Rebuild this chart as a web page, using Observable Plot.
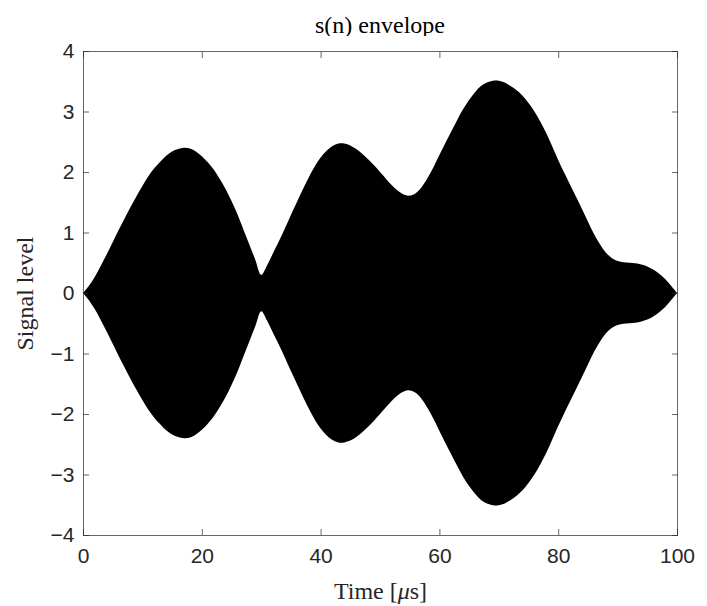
<!DOCTYPE html>
<html><head><meta charset="utf-8">
<script src="https://cdn.jsdelivr.net/npm/d3@7"></script>
<script src="https://cdn.jsdelivr.net/npm/@observablehq/plot@0.6"></script>
<style>
body{margin:0;background:#fff;}
#wrap{position:relative;width:707px;height:606px;overflow:hidden;}
#title{position:absolute;left:83px;width:594px;top:13px;height:24px;line-height:24px;text-align:center;font-family:"Liberation Serif";font-size:24px;color:#000;white-space:nowrap;}
#chart{position:absolute;left:0;top:36px;}
</style></head><body>
<div id="wrap"><div id="title">s(n) envelope</div><div id="chart"></div></div>
<script>
const timeUs = [0,1,2,3,4,5,6,7,8,9,10,11,12,13,14,15,16,17,18,19,20,21,22,23,24,25,26,27,28,29,30,31,32,33,34,35,36,37,38,39,40,41,42,43,44,45,46,47,48,49,50,51,52,53,54,55,56,57,58,59,60,61,62,63,64,65,66,67,68,69,70,71,72,73,74,75,76,77,78,79,80,81,82,83,84,85,86,87,88,89,90,91,92,93,94,95,96,97,98,99,100];
const envelope = [0,0.12,0.27,0.45,0.64,0.84,1.04,1.23,1.42,1.60,1.77,1.93,2.06,2.17,2.27,2.34,2.38,2.40,2.39,2.34,2.26,2.16,2.04,1.89,1.72,1.52,1.30,1.05,0.80,0.55,0.30,0.46,0.66,0.86,1.07,1.29,1.50,1.71,1.91,2.09,2.24,2.35,2.43,2.47,2.47,2.44,2.38,2.30,2.21,2.11,2.00,1.89,1.78,1.69,1.63,1.61,1.65,1.75,1.90,2.08,2.28,2.48,2.67,2.86,3.04,3.19,3.32,3.42,3.48,3.51,3.51,3.48,3.42,3.35,3.26,3.14,3.00,2.83,2.64,2.42,2.20,1.99,1.79,1.59,1.39,1.18,0.98,0.81,0.67,0.58,0.53,0.51,0.50,0.49,0.47,0.44,0.39,0.32,0.23,0.12,0];
const xTicks = [0,20,40,60,80,100];
const yTicks = [-4,-3,-2,-1,0,1,2,3,4];
const xLabel = "Time [μs]";
const yLabel = "Signal level";

const data = timeUs.map((t, i) => ({t, v: envelope[i]}));
const axisColor = "#262626";
const fmt = d => (d < 0 ? "\u2212" + Math.abs(d) : String(d));
const tickFont = {fontFamily: "Liberation Sans", fontSize: 21, fill: axisColor, tickFormat: fmt};

const plot = Plot.plot({
  width: 707, height: 570,
  marginLeft: 83, marginRight: 30, marginTop: 15, marginBottom: 71,
  style: {fontFamily: "Liberation Sans", fontSize: "21px", color: axisColor, background: "#fff"},
  x: {domain: [0, 100]},
  y: {domain: [-4, 4]},
  marks: [
    Plot.areaY(data, {x: "t", y1: d => -d.v, y2: "v", fill: "black", curve: "catmull-rom"}),
    Plot.frame({stroke: axisColor, strokeWidth: 0.7}),
    Plot.axisX(xTicks, {anchor: "bottom", tickSize: -6, tickPadding: 19, label: null, stroke: axisColor, strokeWidth: 0.7, ...tickFont}),
    Plot.axisX(xTicks, {anchor: "top", tickSize: -6, label: null, stroke: axisColor, strokeWidth: 0.7, fill: "none"}),
    Plot.axisY(yTicks, {anchor: "left", tickSize: -6, tickPadding: 15, label: null, stroke: axisColor, strokeWidth: 0.7, ...tickFont}),
    Plot.axisY(yTicks, {anchor: "right", tickSize: -6, label: null, stroke: axisColor, strokeWidth: 0.7, fill: "none"}),
    Plot.text([xLabel], {text: d => d, frameAnchor: "bottom", lineAnchor: "middle", textAnchor: "middle", dy: 56, fontFamily: "Liberation Serif", fontSize: 24, fill: axisColor}),
    Plot.text([yLabel], {text: d => d, frameAnchor: "left", lineAnchor: "middle", textAnchor: "middle", dx: -58, rotate: -90, fontFamily: "Liberation Serif", fontSize: 24, fill: axisColor})
  ]
});

d3.select(plot).selectAll("text").filter(function() { return this.textContent === xLabel; }).each(function() {
  const el = d3.select(this);
  el.text(null);
  el.append("tspan").text("Time [");
  el.append("tspan").attr("font-style", "italic").text("μ");
  el.append("tspan").text("s]");
});

document.getElementById("chart").appendChild(plot);
</script>
</body></html>
